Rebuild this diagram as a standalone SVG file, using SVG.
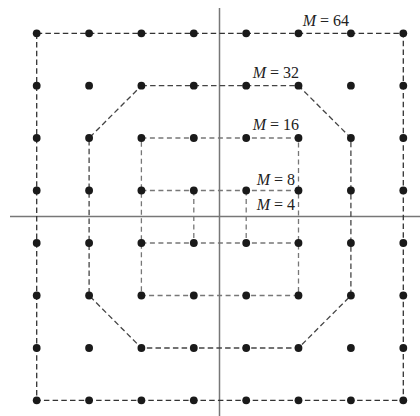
<svg xmlns="http://www.w3.org/2000/svg" width="420" height="416" viewBox="0 0 420 416">
<defs>
<style>
.axis{stroke:#777;stroke-width:1.5;fill:none}
.d64{stroke:#333;stroke-width:1.3;stroke-dasharray:5.5 3.2;fill:none}
.d32{stroke:#444;stroke-width:1.3;stroke-dasharray:5.5 3.2;fill:none}
.dsm{stroke:#777;stroke-width:1.3;stroke-dasharray:5 3.5;fill:none}
.lbl{font-family:"Liberation Serif","Times New Roman",serif;font-size:16px;fill:#222;text-anchor:end}
.it{font-style:italic}
</style>
<circle id="dot" r="3.9" fill="#1a1a1a"/>
</defs>
<rect width="420" height="416" fill="#fff"/>
<g id="axes">
<line class="axis" x1="10" y1="216.5" x2="420" y2="216.5"/>
<line class="axis" x1="219.5" y1="8" x2="219.5" y2="416"/>
</g>
<g id="connectors">
<polygon id="m64" class="d64" points="36.7,33.3 403.3,33.3 403.3,400.3 36.7,400.3"/>
<polygon id="m32" class="d32" points="141.4,85.7 298.5,85.7 350.9,138 350.9,295.5 298.5,348 141.4,348 89.1,295.5 89.1,138"/>
<polygon id="m16" class="dsm" points="141.4,138 298.5,138 298.5,295.5 141.4,295.5"/>
<g id="m8">
<line class="dsm" x1="141.4" y1="190.5" x2="298.5" y2="190.5"/>
<line class="dsm" x1="141.4" y1="243" x2="298.5" y2="243"/>
</g>
<g id="m4">
<line class="dsm" x1="193.8" y1="190.5" x2="193.8" y2="243"/>
<line class="dsm" x1="246.2" y1="190.5" x2="246.2" y2="243"/>
</g>
</g>
<g id="points">
<g id="row0"><use href="#dot" x="36.7" y="33.3"/><use href="#dot" x="89.1" y="33.3"/><use href="#dot" x="141.4" y="33.3"/><use href="#dot" x="193.8" y="33.3"/><use href="#dot" x="246.2" y="33.3"/><use href="#dot" x="298.5" y="33.3"/><use href="#dot" x="350.9" y="33.3"/><use href="#dot" x="403.3" y="33.3"/></g>
<g id="row1"><use href="#dot" x="36.7" y="85.7"/><use href="#dot" x="89.1" y="85.7"/><use href="#dot" x="141.4" y="85.7"/><use href="#dot" x="193.8" y="85.7"/><use href="#dot" x="246.2" y="85.7"/><use href="#dot" x="298.5" y="85.7"/><use href="#dot" x="350.9" y="85.7"/><use href="#dot" x="403.3" y="85.7"/></g>
<g id="row2"><use href="#dot" x="36.7" y="138"/><use href="#dot" x="89.1" y="138"/><use href="#dot" x="141.4" y="138"/><use href="#dot" x="193.8" y="138"/><use href="#dot" x="246.2" y="138"/><use href="#dot" x="298.5" y="138"/><use href="#dot" x="350.9" y="138"/><use href="#dot" x="403.3" y="138"/></g>
<g id="row3"><use href="#dot" x="36.7" y="190.5"/><use href="#dot" x="89.1" y="190.5"/><use href="#dot" x="141.4" y="190.5"/><use href="#dot" x="193.8" y="190.5"/><use href="#dot" x="246.2" y="190.5"/><use href="#dot" x="298.5" y="190.5"/><use href="#dot" x="350.9" y="190.5"/><use href="#dot" x="403.3" y="190.5"/></g>
<g id="row4"><use href="#dot" x="36.7" y="243"/><use href="#dot" x="89.1" y="243"/><use href="#dot" x="141.4" y="243"/><use href="#dot" x="193.8" y="243"/><use href="#dot" x="246.2" y="243"/><use href="#dot" x="298.5" y="243"/><use href="#dot" x="350.9" y="243"/><use href="#dot" x="403.3" y="243"/></g>
<g id="row5"><use href="#dot" x="36.7" y="295.5"/><use href="#dot" x="89.1" y="295.5"/><use href="#dot" x="141.4" y="295.5"/><use href="#dot" x="193.8" y="295.5"/><use href="#dot" x="246.2" y="295.5"/><use href="#dot" x="298.5" y="295.5"/><use href="#dot" x="350.9" y="295.5"/><use href="#dot" x="403.3" y="295.5"/></g>
<g id="row6"><use href="#dot" x="36.7" y="348"/><use href="#dot" x="89.1" y="348"/><use href="#dot" x="141.4" y="348"/><use href="#dot" x="193.8" y="348"/><use href="#dot" x="246.2" y="348"/><use href="#dot" x="298.5" y="348"/><use href="#dot" x="350.9" y="348"/><use href="#dot" x="403.3" y="348"/></g>
<g id="row7"><use href="#dot" x="36.7" y="400.3"/><use href="#dot" x="89.1" y="400.3"/><use href="#dot" x="141.4" y="400.3"/><use href="#dot" x="193.8" y="400.3"/><use href="#dot" x="246.2" y="400.3"/><use href="#dot" x="298.5" y="400.3"/><use href="#dot" x="350.9" y="400.3"/><use href="#dot" x="403.3" y="400.3"/></g>
</g>
<g id="labels">
<text id="l64" class="lbl" x="349" y="25.5"><tspan class="it">M</tspan> = 64</text>
<text id="l32" class="lbl" x="299" y="78"><tspan class="it">M</tspan> = 32</text>
<text id="l16" class="lbl" x="299" y="130"><tspan class="it">M</tspan> = 16</text>
<text id="l8" class="lbl" x="295" y="185"><tspan class="it">M</tspan> = 8</text>
<text id="l4" class="lbl" x="295" y="210"><tspan class="it">M</tspan> = 4</text>
</g>
</svg>
